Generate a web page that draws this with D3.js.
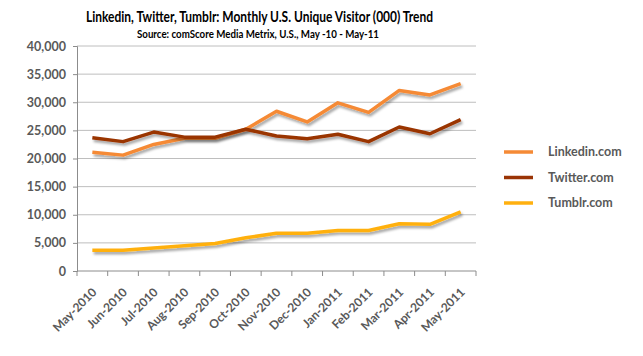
<!DOCTYPE html>
<html><head><meta charset="utf-8">
<script src="https://cdn.jsdelivr.net/npm/d3@7"></script>
<style>body{margin:0;background:#fff}svg{display:block}text{font-family:Lato,"Open Sans",sans-serif}</style>
</head><body>
<svg id="c" width="643" height="356"></svg>
<script>
const months = ["May-2010","Jun-2010","Jul-2010","Aug-2010","Sep-2010","Oct-2010","Nov-2010","Dec-2010","Jan-2011","Feb-2011","Mar-2011","Apr-2011","May-2011"];
const linkedin = [21100,20600,22500,23600,23600,25200,28400,26500,29900,28200,32100,31300,33300];
const twitter  = [23700,23000,24700,23800,23800,25200,24000,23500,24300,23000,25600,24400,26900];
const tumblr   = [3700,3700,4100,4500,4900,5900,6700,6700,7200,7200,8400,8300,10500];
const seriesNames = ["Linkedin.com","Twitter.com","Tumblr.com"];
const colors = ["#F58A36","#9A3405","#FFB00F"];
const yTicks = [0,5000,10000,15000,20000,25000,30000,35000,40000];

const svg = d3.select("#c");
const L=77,R=476,T=46,B=271;
const x = d3.scaleBand().domain(months).range([L,R]).padding(0);
const y = d3.scaleLinear().domain([0,40000]).range([B,T]);

const defs = svg.append("defs");
const f = defs.append("filter").attr("id","sh").attr("x","-10%").attr("y","-50%").attr("width","120%").attr("height","200%");
f.append("feDropShadow").attr("dx",1.5).attr("dy",2.5).attr("stdDeviation",1.3).attr("flood-color","#000").attr("flood-opacity",0.35);

svg.append("text").attr("x",259.5).attr("y",21.5).attr("text-anchor","middle").attr("font-size",15.5).attr("font-weight","bold").attr("fill","#000")
  .attr("textLength",347).attr("lengthAdjust","spacingAndGlyphs")
  .text("Linkedin, Twitter, Tumblr: Monthly U.S. Unique Visitor (000) Trend");
svg.append("text").attr("x",258).attr("y",37.5).attr("text-anchor","middle").attr("font-size",11.5).attr("font-weight","bold").attr("fill","#000")
  .attr("textLength",242).attr("lengthAdjust","spacingAndGlyphs")
  .text("Source: comScore Media Metrix, U.S., May -10 - May-11");

// gridlines
svg.append("g").selectAll("line").data(yTicks.filter(d=>d>0)).join("line")
  .attr("x1",L).attr("x2",R).attr("y1",d=>y(d)).attr("y2",d=>y(d))
  .attr("stroke","#BEBEBE").attr("stroke-width",1);

// y axis
const ya = svg.append("g").attr("transform",`translate(${L},0)`)
  .call(d3.axisLeft(y).tickValues(yTicks).tickSize(4).tickFormat(d3.format(",")));
ya.select(".domain").attr("stroke","#8C8C8C");
ya.selectAll(".tick line").attr("stroke","#8C8C8C");
ya.selectAll("text").attr("font-size",12.5).attr("fill","#595959").attr("font-family","Lato,sans-serif").attr("x",-11).attr("font-weight","bold");

// x axis
const xa = svg.append("g").attr("transform",`translate(0,${B})`);
xa.append("line").attr("x1",L).attr("x2",R).attr("stroke","#8C8C8C");
const bounds = months.map(m=>x(m)).concat([x(months[months.length-1])+x.bandwidth()]);
xa.selectAll("line.t").data(bounds).join("line").attr("class","t")
  .attr("x1",d=>d).attr("x2",d=>d).attr("y1",0).attr("y2",5).attr("stroke","#8C8C8C");
xa.selectAll("text").data(months).join("text")
  .attr("transform",d=>`translate(${x(d)+x.bandwidth()/2+2},${19}) rotate(-45)`)
  .attr("text-anchor","end").attr("dy","0.35em")
  .attr("font-size",12).attr("font-weight","bold").attr("fill","#595959").text(d=>d);

const line = d3.line().x((d,i)=>x(months[i])+x.bandwidth()/2).y(d=>y(d));
const data = [linkedin,twitter,tumblr];
[2,0,1].forEach(i=>{
  svg.append("path").datum(data[i]).attr("d",line).attr("fill","none")
    .attr("stroke",colors[i]).attr("stroke-width",3.5).attr("stroke-linejoin","round").attr("filter","url(#sh)");
});

// legend
const lg = svg.append("g");
seriesNames.forEach((n,i)=>{
  const yy = 152 + i*25.5;
  lg.append("line").attr("x1",504).attr("x2",533).attr("y1",yy).attr("y2",yy).attr("stroke",colors[i]).attr("stroke-width",3.5);
  lg.append("text").attr("x",548).attr("y",yy).attr("dy","0.35em").attr("font-size",12.5).attr("font-weight","bold").attr("fill","#595959").text(n);
});
</script>
</body></html>
